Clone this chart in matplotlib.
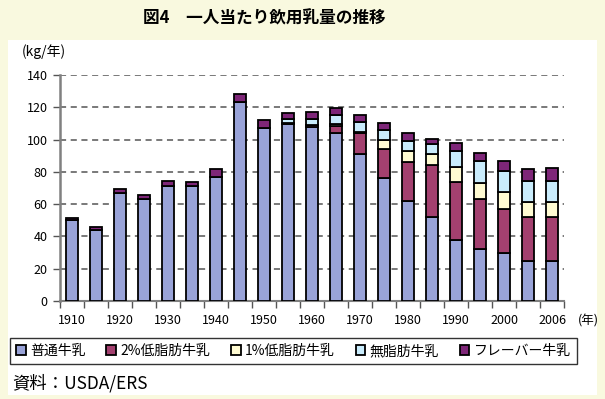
import numpy as np
import matplotlib
matplotlib.use("Agg")
import matplotlib.pyplot as plt
from matplotlib.patches import Rectangle

plt.rcParams["font.family"] = ["Noto Sans CJK JP", "DejaVu Sans"]

years = ["1910", "1915", "1920", "1925", "1930", "1935", "1940", "1945", "1950", "1955",
         "1960", "1965", "1970", "1975", "1980", "1985", "1990", "1995", "2000", "2005", "2006"]
whole = [50, 44, 67, 63, 71.5, 71, 77, 123.5, 107, 109.5, 108, 104, 91, 76, 62, 52, 38, 32, 29.5, 25, 25]
lowfat2 = [0, 0, 0, 0, 0, 0, 0, 0, 0, 0.5, 1, 4.5, 13, 18, 24, 32, 36, 31, 27.5, 27, 27]
lowfat1 = [0, 0, 0, 0, 0, 0, 0, 0, 0, 0, 0, 1, 1, 6, 7, 7, 9, 10, 10.5, 9.5, 9.5]
skim = [0, 0, 0, 0, 0, 0, 0, 0, 0, 3, 4, 6, 6, 6, 6, 6, 10, 14, 13, 13, 13]
flavored = [1.5, 2, 2.5, 2.5, 3, 2.5, 4.5, 5, 5, 3.5, 4, 4, 4, 4, 5, 3.5, 5, 4.5, 6.5, 7, 8]

labels = ["普通牛乳", "2%低脂肪牛乳", "1%低脂肪牛乳", "無脂肪牛乳", "フレーバー牛乳"]
colors = ["#99a3d8", "#a3406f", "#fffbd2", "#c9ecfc", "#7e2678"]
tick_idx = [0, 2, 4, 6, 8, 10, 12, 14, 16, 18, 20]

W, H = 605, 399
fig = plt.figure(figsize=(W / 100, H / 100), dpi=100, facecolor="#f9f9df")
fig.patches.append(Rectangle((8 / W, 4 / H), 589 / W, 355 / H, transform=fig.transFigure,
                             facecolor="white", edgecolor="none", zorder=-5))

fig.text(264 / W, 1 - 18 / H, "図4　一人当たり飲用乳量の推移", ha="center", va="center",
         fontsize=12, fontweight="bold")
fig.text(22 / W, 1 - 52 / H, "(kg/年)", ha="left", va="center", fontsize=10)

ax = fig.add_axes([60 / W, 1 - 301 / H, 504 / W, 226 / H])
ax.set_facecolor("white")
x = np.arange(len(years))
bottom = np.zeros(len(years))
for vals, lab, col in zip([whole, lowfat2, lowfat1, skim, flavored], labels, colors):
    v = np.array(vals, dtype=float)
    ax.bar(x, v, width=0.5, bottom=bottom, color=col, edgecolor="black", linewidth=1.3,
           label=lab, zorder=3)
    bottom += v

ax.set_xlim(-0.5, len(years) - 0.5)
ax.set_ylim(0, 140)
ax.set_yticks(range(0, 141, 20))
ax.yaxis.grid(True, linestyle=(0, (4, 3)), color="#555555", linewidth=1.1)
ax.set_axisbelow(True)
ax.set_xticks(tick_idx)
ax.set_xticklabels([years[i] for i in tick_idx])
ax.set_xticks(np.arange(-0.5, len(years), 1), minor=True)
ax.tick_params(axis="x", which="major", length=0, pad=9, labelsize=9)
ax.tick_params(axis="x", which="minor", length=5, width=1, color="#555555", direction="out")
ax.tick_params(axis="y", length=5, width=1, color="#555555", labelsize=9, pad=4)
for s in ["top", "right"]:
    ax.spines[s].set_visible(False)
ax.spines["left"].set_color("#808080")
ax.spines["left"].set_linewidth(1.8)
ax.spines["bottom"].set_color("#808080")
ax.spines["bottom"].set_linewidth(1.5)
fig.text(588 / W, 1 - 321 / H, "(年)", ha="center", va="center", fontsize=9)

h, l = ax.get_legend_handles_labels()
leg = fig.legend(h, l, loc="center left", bbox_to_anchor=(10 / W, 1 - 351 / H),
                 ncol=5, fontsize=10, frameon=True, fancybox=False,
                 handlelength=0.7, handleheight=0.7, handletextpad=0.3, columnspacing=1.5,
                 borderpad=0.45, borderaxespad=0)
leg.get_frame().set_edgecolor("black")
leg.get_frame().set_linewidth(1)

fig.text(12 / W, 1 - 383 / H, "資料：USDA/ERS", ha="left", va="center", fontsize=12.5)

fig.savefig("out.png", dpi=100, facecolor=fig.get_facecolor())
